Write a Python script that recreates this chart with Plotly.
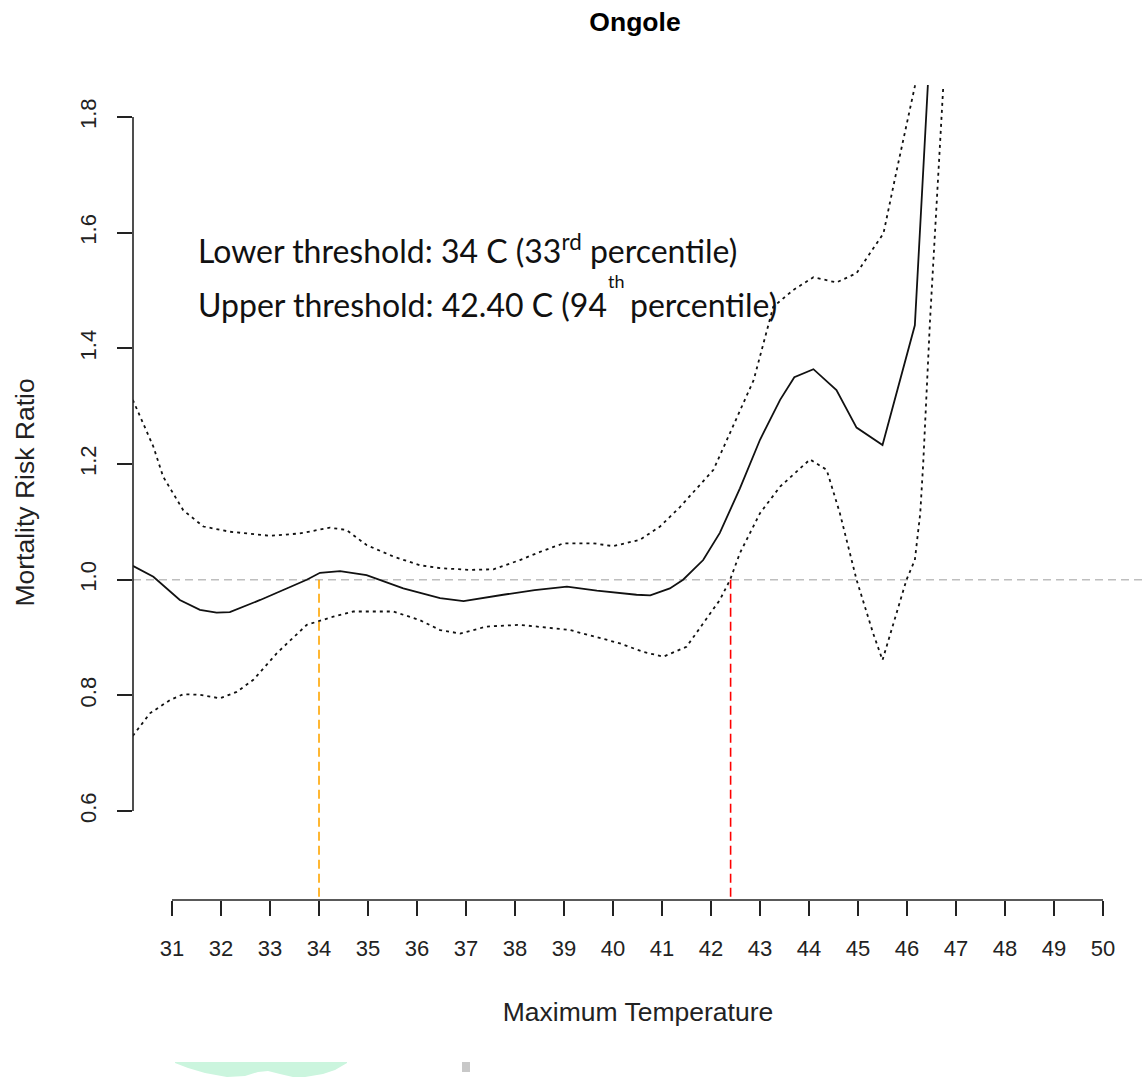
import plotly.graph_objects as go

# Relative mortality risk vs. daily maximum temperature, Ongole
center_temp = [30.2, 30.62, 31.16, 31.57, 31.91, 32.18, 32.8, 33.34, 33.75, 34.02,
               34.43, 34.97, 35.72, 36.47, 36.95, 37.76, 38.4, 39.06, 39.67, 40.48,
               40.76, 41.16, 41.43, 41.84, 42.18, 42.59, 43.0, 43.41, 43.7, 44.09,
               44.56, 44.97, 45.5, 46.16, 46.3, 46.44, 46.55]
center_rr = [1.024, 1.005, 0.965, 0.948, 0.943, 0.944, 0.965, 0.985, 1.0, 1.012,
             1.015, 1.008, 0.985, 0.968, 0.963, 0.974, 0.982, 0.988, 0.981, 0.974,
             0.973, 0.985, 1.0, 1.034, 1.081, 1.158, 1.242, 1.311, 1.35, 1.364,
             1.328, 1.263, 1.233, 1.44, 1.65, 1.853, 2.05]

upper_temp = [30.2, 30.62, 30.82, 31.23, 31.64, 32.18, 33.0, 33.61, 34.22, 34.56,
              34.97, 35.52, 36.06, 36.47, 37.08, 37.56, 38.1, 38.51, 38.99, 39.6,
              40.0, 40.55, 40.96, 41.37, 42.05, 42.59, 42.87, 43.27, 43.68, 44.09,
              44.56, 44.97, 45.52, 45.79, 46.16, 46.3]
upper_rr = [1.311, 1.23, 1.178, 1.12, 1.092, 1.083, 1.076, 1.08, 1.09, 1.086,
            1.06, 1.04, 1.025, 1.02, 1.017, 1.018, 1.034, 1.048, 1.063, 1.063,
            1.058, 1.069, 1.092, 1.126, 1.19, 1.293, 1.345, 1.472, 1.501, 1.523,
            1.514, 1.53, 1.599, 1.708, 1.853, 2.1]

lower_temp = [30.2, 30.55, 30.96, 31.23, 31.57, 31.98, 32.32, 32.66, 33.14, 33.75,
              34.29, 34.7, 35.52, 36.06, 36.47, 36.88, 37.42, 38.1, 39.12, 39.67,
              40.14, 40.62, 41.03, 41.5, 41.84, 42.18, 42.39, 42.59, 43.0, 43.41,
              44.02, 44.36, 44.63, 44.97, 45.31, 45.5, 45.99, 46.16, 46.27, 46.33,
              46.47, 46.67, 46.74, 46.85]
lower_rr = [0.73, 0.769, 0.792, 0.802, 0.801, 0.795, 0.806, 0.827, 0.873, 0.922,
            0.936, 0.945, 0.945, 0.93, 0.913, 0.907, 0.919, 0.922, 0.913, 0.901,
            0.89, 0.875, 0.867, 0.884, 0.925, 0.965, 1.0, 1.046, 1.115, 1.161,
            1.208, 1.19, 1.115, 1.0, 0.907, 0.861, 1.0, 1.034, 1.115, 1.2,
            1.449, 1.737, 1.853, 2.05]

lower_threshold = 34.0
upper_threshold = 42.40
reference_rr = 1.0

x_ticks = list(range(31, 51))
y_ticks = [0.6, 0.8, 1.0, 1.2, 1.4, 1.6, 1.8]
y_tick_text = ["0.6", "0.8", "1.0", "1.2", "1.4", "1.6", "1.8"]

SANS = "Liberation Sans, Arial, sans-serif"
TICK_FONT = dict(family=SANS, size=22, color="#222222")
LABEL_FONT = dict(family=SANS, size=26.5, color="#222222")
INK = "#111111"
Y_MIN, Y_MAX = 0.4462, 1.8554

fig = go.Figure()

# reference line at RR = 1
fig.add_hline(y=reference_rr, line=dict(color="#BEBEBE", width=1.6, dash="8px,5px"),
              layer="below")

# threshold markers dropping from RR = 1 to the axis
fig.add_shape(type="line", xref="x", yref="y", x0=lower_threshold, x1=lower_threshold,
              y0=reference_rr, y1=Y_MIN, line=dict(color="#FFA500", width=1.6, dash="9px,5px"))
fig.add_shape(type="line", xref="x", yref="y", x0=upper_threshold, x1=upper_threshold,
              y0=reference_rr, y1=Y_MIN, line=dict(color="#FF0000", width=1.6, dash="9px,5px"))

fig.add_trace(go.Scatter(x=upper_temp, y=upper_rr, mode="lines",
                         line=dict(color=INK, width=1.8, dash="3px,4px"),
                         showlegend=False, hoverinfo="skip"))
fig.add_trace(go.Scatter(x=lower_temp, y=lower_rr, mode="lines",
                         line=dict(color=INK, width=1.8, dash="3px,4px"),
                         showlegend=False, hoverinfo="skip"))
fig.add_trace(go.Scatter(x=center_temp, y=center_rr, mode="lines",
                         line=dict(color=INK, width=1.8),
                         showlegend=False, hoverinfo="skip"))

# R-style axis lines spanning only the tick range
fig.add_shape(type="line", xref="x", yref="paper", x0=x_ticks[0], x1=x_ticks[-1],
              y0=0, y1=0, line=dict(color="#222222", width=1.6))
fig.add_shape(type="line", xref="paper", yref="y", x0=0, x1=0,
              y0=y_ticks[0], y1=y_ticks[-1], line=dict(color="#222222", width=1.6))


def px(xp, yp):
    """Pixel position on the page -> paper coordinates of the plot area."""
    return (xp - 133) / 1010, (900 - yp) / 815


# threshold legend text
TXT_FONT = dict(family="Lato, Noto Sans, sans-serif", size=32, color="#111111")
SUP_FONT = dict(family="Lato, Noto Sans, sans-serif", size=18, color="#111111")
x, y = px(196, 249)
fig.add_annotation(xref="paper", yref="paper", x=x, y=y, xanchor="left",
                   yanchor="middle", showarrow=False, font=TXT_FONT,
                   text="Lower threshold: 34 C (33<sup>rd</sup> percentile)")
x, y = px(196, 304)
fig.add_annotation(xref="paper", yref="paper", x=x, y=y, xanchor="left",
                   yanchor="middle", showarrow=False, font=TXT_FONT,
                   text="Upper threshold: 42.40 C (94")
x, y = px(616, 281)
fig.add_annotation(xref="paper", yref="paper", x=x, y=y, xanchor="center",
                   yanchor="middle", showarrow=False, font=SUP_FONT, text="th")
x, y = px(779, 304)
fig.add_annotation(xref="paper", yref="paper", x=x, y=y, xanchor="right",
                   yanchor="middle", showarrow=False, font=TXT_FONT,
                   text="percentile)")

fig.update_layout(
    width=1143, height=1077,
    margin=dict(l=133, r=0, t=85, b=177),
    paper_bgcolor="white", plot_bgcolor="white",
    title=dict(text="<b>Ongole</b>", x=635 / 1143, xref="container", xanchor="center",
               y=1 - 22 / 1077, yref="container", yanchor="middle",
               font=dict(family=SANS, size=26.5, color="#000000")),
    xaxis=dict(range=[30.204, 50.816], tickvals=x_ticks, ticks="outside", ticklen=15,
               tickwidth=1.6, tickcolor="#222222", showline=False, showgrid=False,
               zeroline=False, tickfont=TICK_FONT, ticklabelstandoff=14,
               title=dict(text="Maximum Temperature", font=LABEL_FONT, standoff=42)),
    yaxis=dict(range=[Y_MIN, Y_MAX], tickvals=y_ticks, ticktext=y_tick_text,
               ticks="outside", ticklen=15, tickwidth=1.6, tickcolor="#222222",
               showline=False, showgrid=False, zeroline=False, tickfont=TICK_FONT,
               tickangle=-90, ticklabelstandoff=12,
               title=dict(text="Mortality Risk Ratio", font=LABEL_FONT, standoff=33)),
)

# faint marks along the bottom edge of the page
gx0, gy0 = px(462, 1062)
gx1, gy1 = px(470, 1072)
fig.add_shape(type="rect", xref="paper", yref="paper", x0=gx0, x1=gx1, y0=gy1, y1=gy0,
              fillcolor="#C8C8C8", line=dict(width=0), layer="above")
arc_pts = [(175, 1062), (347, 1062), (347, 1063), (335, 1070), (323, 1074), (305, 1077),
           (293, 1077), (280, 1074), (268, 1071), (258, 1072), (245, 1076), (227, 1077),
           (205, 1073), (188, 1068), (175, 1063)]
path = "M " + " L ".join("%.4f,%.4f" % px(a, b) for a, b in arc_pts) + " Z"
fig.add_shape(type="path", xref="paper", yref="paper", path=path,
              fillcolor="#CBF5DE", line=dict(width=0), layer="above")

fig.write_html("out.html")
